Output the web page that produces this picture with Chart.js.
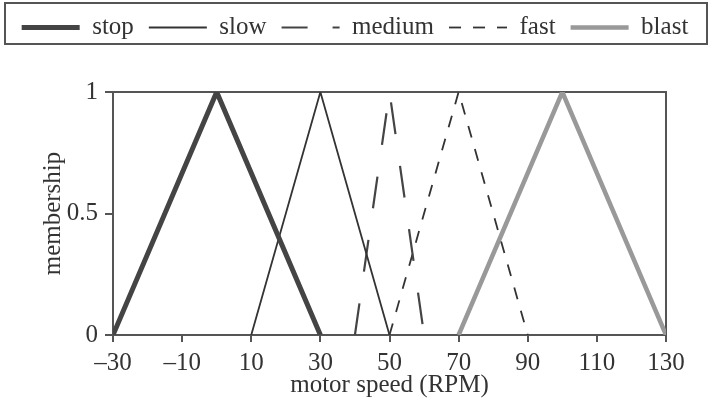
<!DOCTYPE html>
<html>
<head>
<meta charset="utf-8">
<script src="https://cdn.jsdelivr.net/npm/chart.js@4/dist/chart.umd.min.js"></script>
<style>
  body { margin: 0; background: #fff; }
</style>
</head>
<body>
<canvas id="membership-chart" width="710" height="404"></canvas>
<script>
// membership functions, each one is a triangle: start, peak, end (RPM)
var setNames = ["stop", "slow", "medium", "fast", "blast"];
var stopRpm = [-30, 0, 30];
var slowRpm = [10, 30, 50];
var mediumRpm = [40, 50, 60];
var fastRpm = [50, 70, 90];
var blastRpm = [70, 100, 130];
var membership = [0, 1, 0];

// tick labels
var xTicks = [-30, -10, 10, 30, 50, 70, 90, 110, 130];
var yTicks = [0, 0.5, 1];

var serif = "'Liberation Serif', 'Times New Roman', serif";
var axisColor = "#555";
var textColor = "#333";

function points(rpm) {
	var pts = [];
	for (var i = 0; i < rpm.length; i++) {
		pts.push({x: rpm[i], y: membership[i]});
	}
	return pts;
}

// box round the legend like in the picture
var legendFrame = {
	id: "legendFrame",
	afterDraw: function (chart) {
		var ctx = chart.ctx;
		var lg = chart.legend;
		ctx.save();
		ctx.strokeStyle = axisColor;
		ctx.lineWidth = 2;
		ctx.strokeRect(5, lg.top + 3, chart.width - 8, 41);
		ctx.restore();
	}
};

var ctx = document.getElementById("membership-chart");

var data = {
	datasets: [
		{
			label: setNames[0],
			data: points(stopRpm),
			borderColor: "#444",
			borderWidth: 5
		},
		{
			label: setNames[1],
			data: points(slowRpm),
			borderColor: "#333",
			borderWidth: 1.8
		},
		{
			label: setNames[2],
			data: points(mediumRpm),
			borderColor: "#444",
			borderWidth: 2.2,
			borderDash: [32, 32]
		},
		{
			label: setNames[3],
			data: points(fastRpm),
			borderColor: "#333",
			borderWidth: 1.8,
			borderDash: [12, 12]
		},
		{
			label: setNames[4],
			data: points(blastRpm),
			borderColor: "#999",
			borderWidth: 4.5
		}
	]
};

var chart = new Chart(ctx, {
	type: "line",
	data: data,
	plugins: [legendFrame],
	options: {
		responsive: false,
		animation: false,
		layout: {padding: 0},
		elements: {
			point: {radius: 0},
			line: {tension: 0, fill: false}
		},
		plugins: {
			tooltip: {enabled: false},
			legend: {
				position: "top",
				labels: {
					usePointStyle: true,
					pointStyle: "line",
					pointStyleWidth: 58,
					padding: 15,
					color: textColor,
					font: {family: serif, size: 25},
					generateLabels: function (chart) {
						var items = Chart.defaults.plugins.legend.labels.generateLabels(chart);
						// point style legend takes the point options, so put the line look back
						items.forEach(function (item) {
							var ds = chart.data.datasets[item.datasetIndex];
							item.lineDash = ds.borderDash || [];
							item.lineWidth = ds.borderWidth;
						});
						// medium sample: long dash, gap, short dash like the original key
						items[2].lineDash = [26, 25];
						return items;
					}
				}
			}
		},
		scales: {
			x: {
				type: "linear",
				position: "bottom",
				min: -30,
				max: 130,
				afterBuildTicks: function (scale) {
					scale.ticks = xTicks.map(function (v) { return {value: v}; });
				},
				afterFit: function (scale) { scale.height = 69; },
				ticks: {
					color: textColor,
					padding: 6,
					maxRotation: 0,
					font: {family: serif, size: 25},
					callback: function (v) { return v < 0 ? "\u2013" + Math.abs(v) : String(v); }
				},
				grid: {drawOnChartArea: false, drawTicks: true, tickLength: 7, color: axisColor, lineWidth: 2},
				border: {display: true, color: axisColor, width: 2},
				title: {
					display: true,
					text: "motor speed (RPM)",
					color: textColor,
					font: {family: serif, size: 25},
					padding: {top: 0, bottom: 4}
				}
			},
			xTop: {
				type: "linear",
				position: "top",
				min: -30,
				max: 130,
				afterFit: function (scale) { scale.height = 42; },
				ticks: {display: false},
				grid: {display: false},
				border: {display: true, color: axisColor, width: 2}
			},
			y: {
				position: "left",
				min: 0,
				max: 1,
				afterBuildTicks: function (scale) {
					scale.ticks = yTicks.map(function (v) { return {value: v}; });
				},
				afterFit: function (scale) { scale.width = 113; },
				ticks: {
					color: textColor,
					padding: 7,
					font: {family: serif, size: 25},
					callback: function (v) { return String(v); }
				},
				grid: {drawOnChartArea: false, drawTicks: true, tickLength: 8, color: axisColor, lineWidth: 2},
				border: {display: true, color: axisColor, width: 2},
				title: {
					display: true,
					text: "membership",
					color: textColor,
					font: {family: serif, size: 25},
					padding: {top: 38, bottom: 0}
				}
			},
			yRight: {
				position: "right",
				min: 0,
				max: 1,
				afterFit: function (scale) { scale.width = 44; },
				ticks: {display: false},
				grid: {display: false},
				border: {display: true, color: axisColor, width: 2}
			}
		}
	}
});
</script>
</body>
</html>
